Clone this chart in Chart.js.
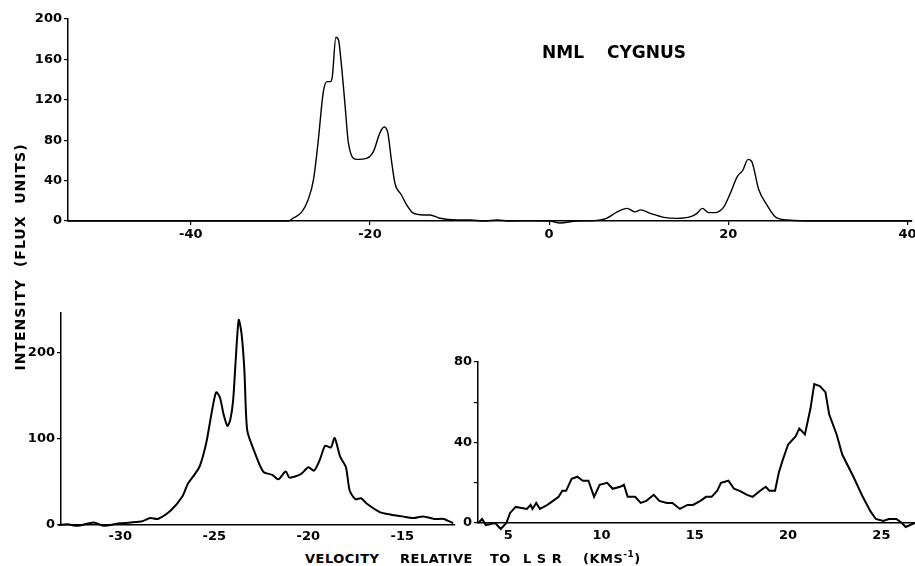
<!DOCTYPE html>
<html><head><meta charset="utf-8">
<script src="https://cdn.jsdelivr.net/npm/chart.js@4"></script>
<style>
html,body{margin:0;padding:0;background:#fff;width:915px;height:566px;overflow:hidden;position:relative;font-family:"DejaVu Sans",sans-serif;color:#000}
canvas{position:absolute}
.t{position:absolute;white-space:pre;line-height:1;font-weight:bold}
</style></head><body>
<canvas id="cTop" width="915" height="250" style="left:0px;top:0px"></canvas>
<canvas id="cBL" width="470" height="260" style="left:0px;top:290px"></canvas>
<canvas id="cBR" width="475" height="210" style="left:440px;top:340px"></canvas>

<div class="t" style="left:542px;top:44px;font-size:17px">NML</div>
<div class="t" style="left:607px;top:44px;font-size:17px">CYGNUS</div>

<div class="t" style="left:-120px;top:249px;width:280px;height:16px;line-height:16px;text-align:center;font-size:14px;letter-spacing:1px;transform:rotate(-90deg);transform-origin:50% 50%">INTENSITY  (FLUX  UNITS)</div>

<div class="t" style="left:305px;top:552px;font-size:13px;letter-spacing:0.5px">VELOCITY</div>
<div class="t" style="left:400px;top:552px;font-size:13px;letter-spacing:0.5px">RELATIVE</div>
<div class="t" style="left:490px;top:552px;font-size:13px;letter-spacing:0.5px">TO</div>
<div class="t" style="left:523px;top:552px;font-size:13px;letter-spacing:5.5px">LSR</div>
<div class="t" style="left:583px;top:552px;font-size:13px;letter-spacing:0.5px">(KMS<span style="font-size:9px;position:relative;top:-6px">-1</span>)</div>

<script>
// ---- data ----
// top panel: full spectrum
const topVel  = [-53.7,-45,-35,-30.5,-29.1,-28.6,-27.6,-26.9,-26.3,-25.8,-25.2,-24.8,-24.4,-24.2,-23.8,-23.5,-23.2,-22.8,-22.4,-21.5,-20.4,-19.6,-18.9,-18.4,-18.0,-17.6,-17.2,-16.5,-15.9,-15.2,-14.0,-13.3,-12.2,-10.3,-8.8,-7.3,-5.8,-4.4,-1.8,0.1,1.2,3.1,4.9,6.4,7.6,8.7,9.6,10.2,11.3,12.8,14.3,15.8,16.5,17.1,17.8,18.5,19.5,20.2,21.0,21.6,22.2,22.6,23.4,24.3,25.4,26.6,29.9,40.5];
const topFlux = [0,0,0,0,0,2.7,9,21,41,77,128,138,138,143,182,179,156,117,77,61,62,69,87,93,87,60,37,26,16,8,6,6,2.7,1,1,0,1,0,0.3,0,-2,0,0.3,2.6,9,12.5,9,11,7.6,3.6,2.6,4.3,7.6,12.5,8.3,8.3,14,27,44,50,61,59,31,16,3,1,0,0];
// bottom-left panel: blue-shifted part
const blVel  = [-33.3,-32.8,-32.3,-31.4,-30.9,-30,-28.9,-28.4,-28.0,-27.3,-26.7,-26.4,-26.1,-25.8,-25.6,-25.4,-25.1,-24.9,-24.7,-24.5,-24.3,-24.15,-24.0,-23.85,-23.7,-23.55,-23.4,-23.25,-22.9,-22.4,-21.9,-21.6,-21.2,-21.0,-20.4,-20.0,-19.7,-19.4,-19.1,-18.8,-18.6,-18.3,-18.0,-17.8,-17.5,-17.2,-16.9,-16.2,-15.6,-15.0,-14.4,-13.9,-13.3,-12.8,-12.3];
const blFlux = [0,1,-1,3,-1,2,4,8,7,17,33,48,57,67,80,98,135,154,148,128,115,122,144,195,238,222,180,110,87,62,58,53,62,55,59,67,63,75,92,90,101,79,67,40,30,31,25,15,12,10,8,10,7,7,2];
// bottom-right panel: red-shifted part
const brVel  = [3.4,3.6,3.8,4.3,4.6,4.9,5.1,5.4,6.0,6.2,6.3,6.5,6.7,7.1,7.4,7.7,7.9,8.1,8.4,8.7,9.0,9.3,9.6,9.9,10.3,10.6,11.0,11.2,11.4,11.8,12.1,12.4,12.8,13.1,13.5,13.8,14.2,14.6,14.9,15.3,15.6,15.9,16.2,16.4,16.8,17.1,17.4,17.8,18.1,18.5,18.8,19.0,19.3,19.5,19.7,20.0,20.4,20.6,20.9,21.2,21.4,21.7,22.0,22.2,22.6,22.9,23.5,24.0,24.4,24.7,25.1,25.4,25.8,26.1,26.3,26.8];
const brFlux = [0,2,-1,0,-3,0,5,8,7,9,7,10,7,9,11,13,16,16,22,23,21,21,13,19,20,17,18,19,13,13,10,11,14,11,10,10,7,9,9,11,13,13,16,20,21,17,16,14,13,16,18,16,16,25,31,39,43,47,44,57,69,68,65,54,44,34,23,13,6,2,1,2,2,0,-2,0];
// tick values / labels
const topXTicks = [-40,-20,0,20,40];
const topYTicks = [0,40,80,120,160,200];
const blXTicks  = [-30,-25,-20,-15];
const blYTicks  = [0,100,200];
const brXTicks  = [5,10,15,20,25];
const brYTicks  = [0,20,40,60,80];
const brYLabels = ['0','','40','','80'];

const tickFont = {family:'DejaVu Sans', size:13, weight:'bold'};

function makeChart(id, vel, flux, c){
  const pts = vel.map((v,i)=>({x:v, y:flux[i]}));
  return new Chart(document.getElementById(id), {
    type:'line',
    data:{datasets:[{data:pts, borderColor:'#000', borderWidth:c.lw, pointRadius:0, fill:false,
      tension:c.tension, cubicInterpolationMode:c.mono?'monotone':'default', clip:false}]},
    options:{
      responsive:false, animation:false, devicePixelRatio:1,
      layout:{padding:c.pad},
      plugins:{legend:{display:false}, tooltip:{enabled:false}},
      scales:{
        x:{type:'linear', min:c.xmin, max:c.xmax,
          afterBuildTicks:s=>{s.ticks = c.xt.map(v=>({value:v}));},
          afterFit:s=>{s.height=c.xh; s.paddingLeft=0; s.paddingRight=0;},
          grid:{display:true, drawOnChartArea:false, drawTicks:c.xtl>0, tickLength:c.xtl, color:'#000', lineWidth:1.2},
          border:{display:true, color:'#000', width:1.5},
          ticks:{color:'#000', font:tickFont, padding:c.xpad, maxRotation:0, autoSkip:false, callback:v=>String(v)}
        },
        y:{type:'linear', min:c.ymin, max:c.ymax,
          afterBuildTicks:s=>{s.ticks = c.yt.map(v=>({value:v}));},
          afterFit:s=>{s.width=c.yw; s.paddingTop=0; s.paddingBottom=0;},
          grid:{display:true, drawOnChartArea:false, drawTicks:true, tickLength:4, color:'#000', lineWidth:1.2},
          border:{display:true, color:'#000', width:1.5},
          ticks:{color:'#000', font:tickFont, padding:2, autoSkip:false,
            callback:(v,i)=> c.yl ? c.yl[i] : String(v)}
        }
      }
    }
  });
}

makeChart('cTop', topVel, topFlux, {xmin:-53.7, xmax:40.5, ymin:0, ymax:200, xt:topXTicks, yt:topYTicks,
  pad:{left:0, top:19, right:3, bottom:0}, yw:68, xh:29, xtl:4, xpad:2, lw:1.4, tension:0.4, mono:true});
makeChart('cBL', blVel, blFlux, {xmin:-33.15, xmax:-12.2, ymin:0, ymax:246, xt:blXTicks, yt:blYTicks,
  pad:{left:0, top:23, right:15, bottom:0}, yw:61, xh:25, xtl:0, xpad:4, lw:2, tension:0.25, mono:false});
makeChart('cBR', brVel, brFlux, {xmin:3.38, xmax:26.8, ymin:0, ymax:80, xt:brXTicks, yt:brYTicks, yl:brYLabels,
  pad:{left:0, top:22, right:0, bottom:0}, yw:38, xh:27, xtl:0, xpad:5, lw:2, tension:0, mono:false});
</script>
</body></html>
